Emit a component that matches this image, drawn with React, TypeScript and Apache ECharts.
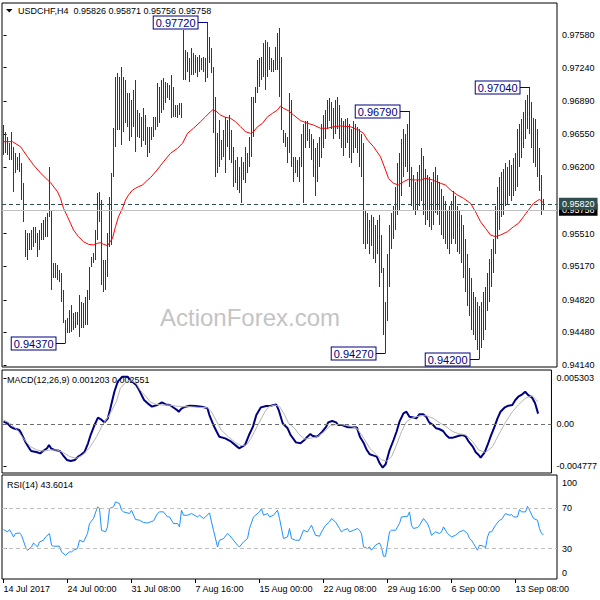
import React, { useEffect, useRef } from 'react';
import * as echarts from 'echarts';

const FONT = "'Liberation Sans', Arial, sans-serif";

const symbolName = 'USDCHF,H4';
const lastOpen = 0.95826;
const lastHigh = 0.95871;
const lastLow = 0.95756;
const lastClose = 0.95758;
const hLine = 0.9582;

const barHigh = [
  0.96642,0.96572,0.96520,0.96451,0.96572,0.96416,0.96347,0.96312,0.96347,0.96242,
  0.96034,0.95547,0.95513,0.95513,0.95547,0.95582,0.95582,0.95513,0.95547,0.95617,
  0.95651,0.95686,0.95721,0.96208,0.95756,0.95200,0.95200,0.95182,0.95130,0.95095,
  0.94922,0.94609,0.94626,0.94713,0.94765,0.94678,0.94696,0.94696,0.94870,0.94800,
  0.94783,0.94852,0.94922,0.95165,0.95269,0.95304,0.95547,0.95929,0.95947,0.95860,
  0.95235,0.95235,0.95513,0.95895,0.96138,0.96607,0.97146,0.97181,0.97146,0.97250,
  0.97146,0.97111,0.96972,0.96972,0.96903,0.97007,0.97111,0.96798,0.96763,0.96729,
  0.96816,0.96746,0.96625,0.96625,0.96625,0.96729,0.96729,0.97076,0.97042,0.97111,
  0.97128,0.97094,0.97076,0.97059,0.97163,0.97042,0.96851,0.96851,0.96868,0.96868,
  0.97632,0.97424,0.97406,0.97337,0.97441,0.97389,0.97372,0.97354,0.97372,0.97337,
  0.97354,0.97337,0.97720,0.97563,0.97441,0.97250,0.96937,0.96555,0.96694,0.96486,
  0.96590,0.96729,0.96694,0.96746,0.96590,0.96416,0.96277,0.96312,0.96208,0.96312,
  0.96260,0.96416,0.96347,0.96520,0.96937,0.96937,0.97042,0.97320,0.97337,0.97354,
  0.97493,0.97528,0.97510,0.97458,0.97337,0.97320,0.97458,0.97597,0.97649,0.97354,
  0.96590,0.96555,0.96520,0.96972,0.96903,0.96312,0.96312,0.96277,0.96312,0.9655,
  0.9665,0.9668,0.9668,0.9660,0.9655,0.9650,0.9640,0.9645,0.9652,0.9665,
  0.9675,0.9680,0.9690,0.9692,0.9688,0.9682,0.9690,0.9693,0.9685,0.9672,
  0.9668,0.9670,0.9672,0.9665,0.9660,0.9668,0.9665,0.9662,0.9660,0.9655,
  0.9645,0.9575,0.9572,0.9565,0.9570,0.9568,0.9560,0.9565,0.9570,0.9550,
  0.9515,0.9480,0.9530,0.9560,0.9572,0.9580,0.9600,0.9625,0.9635,0.9650,
  0.9660,0.9655,0.9665,0.9679,0.9620,0.9612,0.9605,0.9615,0.9622,0.9640,
  0.9632,0.9618,0.9612,0.9610,0.9605,0.9615,0.9620,0.9612,0.9605,0.9598,
  0.9590,0.9585,0.9575,0.9580,0.9585,0.9595,0.9590,0.9580,0.9575,0.9570,
  0.9560,0.9545,0.9530,0.9515,0.9505,0.9490,0.9485,0.9480,0.9475,0.9480,
  0.9490,0.9495,0.9510,0.9525,0.9535,0.9545,0.9580,0.9600,0.9610,0.9615,
  0.9618,0.9625,0.9620,0.9628,0.9622,0.9630,0.9635,0.9660,0.9665,0.9670,
  0.9678,0.9690,0.9695,0.9704,0.9688,0.9672,0.9670,0.9660,0.9640,0.9612,
  0.95871,
];

const barLow = [
  0.96329,0.96347,0.96329,0.96277,0.96277,0.95947,0.96138,0.96173,0.96155,0.95860,
  0.95634,0.95269,0.95235,0.95339,0.95339,0.95374,0.95408,0.95269,0.95339,0.95443,
  0.95443,0.95478,0.95478,0.95686,0.94922,0.95043,0.95043,0.95026,0.95009,0.94800,
  0.94574,0.94370,0.94470,0.94470,0.94487,0.94505,0.94522,0.94557,0.94435,0.94522,
  0.94522,0.94557,0.94557,0.94818,0.95165,0.95200,0.95235,0.95443,0.95634,0.94974,
  0.94904,0.94922,0.95060,0.95374,0.95391,0.96103,0.96416,0.96590,0.96590,0.96433,
  0.96572,0.96659,0.96624,0.96480,0.96520,0.96624,0.96364,0.96520,0.96503,0.96416,
  0.96480,0.96433,0.96312,0.96347,0.96486,0.96520,0.96590,0.96625,0.96659,0.96763,
  0.96798,0.96868,0.96920,0.96903,0.96711,0.96729,0.96729,0.96711,0.96746,0.96711,
  0.97111,0.97111,0.97198,0.97094,0.97163,0.97163,0.97180,0.97146,0.97198,0.97215,
  0.97198,0.97094,0.97128,0.97285,0.97180,0.96555,0.96103,0.96138,0.96208,0.96277,
  0.96312,0.96138,0.96416,0.96277,0.96242,0.95999,0.96034,0.95964,0.95929,0.95825,
  0.96069,0.96034,0.96138,0.96208,0.96312,0.96520,0.96868,0.96972,0.97042,0.97111,
  0.97146,0.97007,0.97146,0.97215,0.97198,0.97198,0.97215,0.97215,0.96937,0.96590,
  0.96451,0.96416,0.96242,0.96347,0.96208,0.96051,0.96138,0.96103,0.96051,0.9620,
  0.9583,0.9640,0.9648,0.9640,0.9628,0.9610,0.9590,0.9605,0.9620,0.9630,
  0.9640,0.9650,0.9660,0.9668,0.9660,0.9650,0.9655,0.9660,0.9650,0.9640,
  0.9632,0.9640,0.9645,0.9630,0.9625,0.9635,0.9640,0.9635,0.9620,0.9610,
  0.9540,0.9535,0.9540,0.9530,0.9538,0.9525,0.9520,0.9530,0.9495,0.9510,
  0.9445,0.9427,0.9460,0.9495,0.9535,0.9545,0.9555,0.9570,0.9575,0.9590,
  0.9610,0.9620,0.9615,0.9600,0.9580,0.9575,0.9570,0.9575,0.9580,0.9585,
  0.9570,0.9560,0.9565,0.9558,0.9555,0.9560,0.9572,0.9570,0.9560,0.9550,
  0.9545,0.9540,0.9535,0.9530,0.9540,0.9545,0.9540,0.9532,0.9530,0.9520,
  0.9505,0.9490,0.9475,0.9465,0.9450,0.9445,0.9440,0.9430,0.9420,0.9432,
  0.9440,0.9450,0.9470,0.9480,0.9495,0.9510,0.9530,0.9545,0.9555,0.9568,
  0.9570,0.9580,0.9582,0.9590,0.9585,0.9590,0.9595,0.9600,0.9620,0.9630,
  0.9640,0.9650,0.9660,0.9655,0.9640,0.9625,0.9620,0.9610,0.9595,0.9570,
  0.95756,
];

// moving average (red), [bar index, price]
const movingAvg = [
  [0,0.96468],[4.5,0.96468],[8.5,0.96416],[12,0.96311],[15,0.96225],[18.5,0.96142],[22,0.96069],[23.5,0.96041],
  [27,0.95947],[28.5,0.95878],[30,0.95774],[32,0.95686],[33.5,0.95617],[35,0.95547],[37.5,0.95478],[40,0.95425],
  [42.5,0.95398],[45,0.95391],[47,0.95409],[48.5,0.95415],[50,0.95398],[52,0.95384],[54.5,0.95461],[56,0.95582],
  [57.5,0.95686],[59.5,0.95774],[61,0.9586],[62.5,0.95912],[64.5,0.95964],[66,0.95982],[67.5,0.95999],[69.5,0.96016],
  [72,0.96069],[73.5,0.96093],[76.8,0.96173],[80,0.96259],[83.5,0.96347],[87,0.96399],[89.5,0.96451],[92,0.96555],
  [95,0.96608],[98.5,0.96676],[101,0.96728],[103.5,0.96781],[104.5,0.96798],[106,0.96791],[108.5,0.96746],[111,0.96722],
  [113.5,0.96712],[116,0.96676],[118.5,0.96624],[121,0.96572],[123.5,0.96555],[125,0.96572],[127,0.96624],[129.5,0.9666],
  [132,0.96728],[134.5,0.96764],[137,0.96798],[138.5,0.9684],[140,0.96816],[142.5,0.96791],[145,0.96746],[148.5,0.96688],
  [152,0.9666],[155,0.96642],[158.5,0.96608],[162,0.96608],[165,0.96624],[168.5,0.96632],[173.5,0.96624],[177.5,0.9659],
  [180,0.96555],[182,0.96486],[185,0.96416],[188.5,0.96311],[191,0.96173],[192.5,0.96086],[195,0.96034],[197.5,0.96017],
  [200,0.96051],[202.5,0.96076],[205,0.96069],[208.5,0.96069],[211,0.96086],[214.5,0.96069],[218.5,0.96034],[221,0.96017],
  [223.5,0.95964],[227,0.95912],[230,0.95878],[233.5,0.95826],[236,0.95738],[238.5,0.95634],[241,0.95565],[243.5,0.95495],
  [246,0.95478],[248.5,0.95495],[252,0.9553],[255,0.95582],[257.5,0.95617],[260,0.95686],[262.5,0.95756],[265,0.95826],
  [268,0.95867],[270,0.9583],
];

const macdMain = [
  [0,0.00028],[2,0.00009],[3.5,-0.00029],[5,-0.00048],[8,-0.00068],[9,-0.00106],[11,-0.00201],[13,-0.00277],
  [14,-0.00308],[17,-0.00323],[18.5,-0.00335],[20,-0.00308],[22,-0.00277],[23,-0.00239],[24,-0.00277],[26,-0.00297],
  [28.5,-0.00308],[30,-0.00354],[32,-0.00411],[34,-0.00423],[36,-0.00411],[37.7,-0.00373],[39,-0.00354],[41,-0.00316],
  [42.7,-0.0022],[44,-0.00125],[46,-0.0001],[47.7,0.00074],[49,0.00058],[51,0.0002],[52.7,0.00066],[54,0.00181],
  [56,0.00371],[57.7,0.00486],[60,0.00543],[62.7,0.00543],[64,0.00505],[67,0.00448],[68.5,0.0039],[71,0.00276],
  [73.5,0.00226],[75,0.002],[77.7,0.00219],[80,0.00249],[82,0.00226],[84,0.00219],[86,0.00188],[87.7,0.00161],
  [88.5,0.00142],[90,0.00181],[92,0.002],[94,0.00211],[97,0.00207],[100,0.002],[103,0.00181],[104,0.00104],
  [106,-0.0001],[107.7,-0.00087],[109,-0.00144],[112,-0.00163],[115,-0.00201],[118,-0.00258],[119,-0.00277],[122,-0.00239],
  [124,-0.00125],[126,-0.00029],[127.7,0.00104],[130,0.00192],[132.7,0.00207],[135,0.00211],[137.7,0.00226],[139,0.00161],
  [141,0.00009],[143.5,-0.00048],[145,-0.00125],[147.7,-0.00209],[150,-0.0022],[152,-0.00182],[153.5,-0.00144],[155,-0.00114],
  [156,-0.00133],[158,-0.00144],[159,-0.00133],[161,-0.00087],[163,-0.00029],[164,0.0002],[166,0.00036],[168,0.0002],
  [169,-0.0001],[171,-0.0001],[173,-0.00029],[174,-0.00037],[177,-0.00037],[178.5,-0.0004],[180,-0.00144],[182,-0.0022],
  [183.5,-0.00297],[185,-0.00346],[187,-0.00361],[188.5,-0.00373],[190,-0.00449],[191.5,-0.00499],[193,-0.0046],[195,-0.00297],
  [197,-0.00182],[198.5,-0.00087],[200,0.00028],[202,0.00123],[203.5,0.00142],[205,0.00085],[207,0.00077],[208.5,0.00066],
  [210,0.00112],[212,0.00112],[213.5,0.00085],[215,0.0002],[217,-0.0001],[218.5,-0.00048],[220,-0.00056],[222,-0.00079],
  [223.5,-0.00125],[225,-0.00155],[227,-0.00155],[228.5,-0.00144],[230,-0.00133],[232,-0.00125],[233.5,-0.00144],[235,-0.00201],
  [237,-0.00258],[238.5,-0.00323],[240,-0.00354],[241,-0.00384],[243,-0.00323],[244.5,-0.00239],[246,-0.00144],[248,-0.00029],
  [249.5,0.00066],[251,0.00142],[253,0.00188],[255,0.00211],[257,0.00219],[258.5,0.00276],[260,0.00314],[262,0.00341],
  [263.5,0.00371],[265,0.00333],[267,0.00303],[268.5,0.0024],[270,0.0012],
];

const macdSignal = [
  [0,0.00047],[3.5,0.00009],[7,-0.00068],[10,-0.00163],[13.5,-0.00258],[17,-0.00297],[20,-0.00308],[23.5,-0.00297],
  [27,-0.00297],[30,-0.00323],[33.5,-0.00373],[37,-0.00392],[40,-0.00354],[43.5,-0.0027],[47,-0.00144],[50,-0.0001],
  [53.5,0.00104],[57,0.00257],[59,0.0041],[62,0.00486],[64,0.00505],[67,0.00467],[69,0.0039],[72,0.00314],
  [74,0.00257],[77,0.00226],[80,0.00219],[83.5,0.00219],[87,0.00207],[90,0.002],[94,0.002],[98.5,0.00192],
  [103,0.00188],[105,0.00142],[107.7,0.00028],[110,-0.00068],[113.5,-0.00144],[117,-0.00209],[120,-0.00247],[122.7,-0.00239],
  [125,-0.00163],[128.5,-0.0001],[132,0.00142],[134,0.002],[137,0.00219],[139.5,0.002],[142,0.00104],[144,0.00009],
  [147,-0.00048],[149,-0.0011],[152,-0.0017],[155,-0.00163],[158.5,-0.00144],[162,-0.00087],[165,-0.00018],[168.5,-0.00003],
  [172,-0.0001],[175,-0.00022],[178.5,-0.00048],[182,-0.00163],[185,-0.00277],[188.5,-0.00354],[191,-0.00411],[193.5,-0.00423],
  [196,-0.00373],[198.5,-0.00239],[201,-0.00087],[203.5,0.00028],[206,0.00066],[208.5,0.00085],[211,0.00096],[213.5,0.00096],
  [217,0.00066],[220,0.0002],[223.5,-0.00029],[227,-0.00087],[230,-0.0011],[233.5,-0.00125],[237,-0.00201],[240,-0.00297],
  [243.5,-0.00323],[247,-0.00258],[250,-0.00125],[253.5,0.0002],[257,0.00142],[260,0.00219],[263.5,0.00295],[267,0.00326],
  [270,0.00255],
];

const rsiLine = [
  [0,48.7],[2,46.4],[3,48.7],[4,45.4],[5,41.4],[6,44.8],[8,45.4],[9,43.1],[11,31.6],[12,28.3],[14,31.6],[15,35.5],
  [17,31.6],[18,36.5],[20,38.2],[21,41.4],[23,44.8],[24,33.3],[25,32.3],[28,32.3],[29,26.7],[31,23.4],[33,26.7],[34,26.7],
  [35,28.3],[37,30],[38,38.2],[40,36.5],[42,44.8],[43,54.6],[45,59.6],[47,71],[48,69.4],[49,48],[51,46.4],[52,51.3],
  [53,69.4],[55,71],[56,75.9],[58,74.3],[59,67.7],[60,66.1],[63,64.5],[64,67.7],[66,58.6],[68,57.9],[70,55.6],[72,55.2],
  [75,57.2],[77,64.5],[78,66.1],[80,66.1],[82,61.1],[83,61.1],[85,54.6],[87,54.6],[88,51.3],[89,67.7],[90,62.8],[92,62.8],
  [94,64.5],[97,61.1],[98,62.8],[100,59.6],[101,61.1],[103,65.1],[104,56.2],[105,48],[107,31.6],[108,38.2],[110,39.8],[112,44.8],
  [113,43.1],[115,38.2],[117,33.3],[118,31.6],[120,36.5],[122,39.8],[123,49.7],[125,61.1],[128,66.1],[129,69.4],[130,62.8],[132,64.5],
  [133,61.1],[135,62.8],[137,67.7],[138,59.6],[140,39.8],[142,41.4],[143,49.7],[144,39.8],[146,38.2],[148,38.2],
  [150,48],[152,46.4],[153,49.7],[154,52.9],[156,43.1],[158,42.1],[159,46.4],[161,52.9],[163,56.2],[164,59.6],[166,56.2],[168,49.7],
  [169,46.4],[170,48],[172,49.7],[173,46.4],[175,48],[177,49.7],[178,48],[179,44.8],[180,31.6],[182,30],[183,31.6],[184,28.3],
  [186,33.3],[188,35.5],[189,31],[190,22.4],[191,22.4],[193,46.4],[194,48],[196,48],[198,54.6],[199,61.1],[202,61.8],[203,66.1],
  [204,52.9],[205,49.7],[207,50.7],[208,52.9],[210,59.6],[212,54.6],[213,49.7],[214,43.1],[216,46.4],[218,44.8],[219,46.4],[220,51.3],
  [222,44.8],[224,41.4],[226,43.1],[228,46.4],[230,48],[232,44.8],[233,39.8],[234,38.2],[235,34.9],[237,28.3],[238,33.3],[240,32.3],
  [241,30.6],[242,41.4],[243,46.4],[244,46.4],[246,52.9],[248,57.9],[249,58.6],[251,64.5],[253,62.8],[254,63.5],[255,61.1],[257,61.1],
  [258,68.4],[259,66.1],[261,66.1],[262,71.7],[263,67.7],[265,59.6],[267,57.9],[268,49.7],[269,44.8],[270,43.6],
];

const macdLast = 0.001203;
const signalLast = 0.002551;
const rsiLast = 43.6014;

const dateTickIndex = [0, 32, 64, 96, 128, 160, 192, 224, 256];
const dateTickLabels = ['14 Jul 2017', '24 Jul 00:00', '31 Jul 08:00', '7 Aug 16:00', '15 Aug 00:00', '22 Aug 08:00', '29 Aug 16:00', '6 Sep 00:00', '13 Sep 08:00'];
const priceTicks = [0.9414, 0.9448, 0.9482, 0.9517, 0.9551, 0.962, 0.9655, 0.9689, 0.9724, 0.9758];
const macdTicks = [-0.004777, 0, 0.005303];
const rsiLevels = [30, 70];
const rsiLabelAt = [6.4, 30, 70, 94.6];
const rsiLabelText = ['0', '30', '70', '100'];

const annIndex = [31, 102, 191, 203, 238, 263];
const annPrice = [0.9437, 0.9772, 0.9427, 0.9679, 0.942, 0.9704];

const BAR_COLOR = '#17405e';

export default function App() {
  const ref = useRef<HTMLDivElement>(null);
  useEffect(() => {
    document.body.style.margin = '0';
    if (!ref.current) return;
    const chart = echarts.init(ref.current, undefined, { renderer: 'svg' });
    const xCommon = (g: number) => ({
      type: 'value', gridIndex: g, min: -0.75, max: 276.75,
      splitLine: { show: false },
      axisLine: { show: false },
      axisTick: { show: g === 2, customValues: dateTickIndex, length: 4, lineStyle: { color: '#000' } },
      axisLabel: {
        show: g === 2, customValues: dateTickIndex,
        formatter: (v: number) => dateTickLabels[dateTickIndex.indexOf(v)] ?? '',
        align: 'left', margin: 5, color: '#000', fontSize: 9, fontFamily: FONT,
      },
    });
    const labelStyle = { color: '#000', fontSize: 9, fontFamily: FONT, margin: 5 };
    const option: any = {
      animation: false,
      backgroundColor: '#fff',
      textStyle: { fontFamily: FONT },
      grid: [
        { left: 2, top: 3, width: 555, height: 364, show: true, borderColor: '#000', borderWidth: 1 },
        { left: 2, top: 370, width: 555, height: 103, show: true, borderColor: '#000', borderWidth: 1 },
        { left: 2, top: 475, width: 555, height: 104, show: true, borderColor: '#000', borderWidth: 1 },
      ],
      xAxis: [xCommon(0), xCommon(1), xCommon(2)],
      yAxis: [
        {
          type: 'value', gridIndex: 0, position: 'right', min: 0.94119, max: 0.97914,
          splitLine: { show: false }, axisLine: { show: false },
          axisTick: { show: true, customValues: priceTicks, length: 3, lineStyle: { color: '#000' } },
          axisLabel: { ...labelStyle, customValues: priceTicks, formatter: (v: number) => v.toFixed(5) },
        },
        {
          type: 'value', gridIndex: 1, position: 'right', min: -0.0056, max: 0.0062,
          splitLine: { show: false }, axisLine: { show: false },
          axisTick: { show: true, customValues: macdTicks, length: 3, lineStyle: { color: '#000' } },
          axisLabel: { ...labelStyle, customValues: macdTicks, formatter: (v: number) => (v === 0 ? '0.00' : v.toFixed(6)) },
        },
        {
          type: 'value', gridIndex: 2, position: 'right', min: 0, max: 102.4,
          splitLine: { show: false }, axisLine: { show: false },
          axisTick: { show: true, customValues: rsiLevels, length: 3, lineStyle: { color: '#000' } },
          axisLabel: { ...labelStyle, customValues: rsiLabelAt, formatter: (v: number) => rsiLabelText[rsiLabelAt.indexOf(v)] ?? '' },
        },
      ],
      graphic: [
        { type: 'text', x: 160, y: 317, z: 0, silent: true, style: { text: 'ActionForex.com', fill: '#c4c4c4', fontSize: 24, fontFamily: FONT, verticalAlign: 'middle' } },
        { type: 'polygon', shape: { points: [[6, 9], [12.5, 9], [9.25, 12.5]] }, style: { fill: '#000' } },
        { type: 'text', x: 18, y: 11, style: { text: `${symbolName}  ${lastOpen.toFixed(5)} ${lastHigh.toFixed(5)} ${lastLow.toFixed(5)} ${lastClose.toFixed(5)}`, fill: '#000', fontSize: 9, fontFamily: FONT, verticalAlign: 'middle' } },
        { type: 'text', x: 7, y: 380, style: { text: `MACD(12,26,9) ${macdLast.toFixed(6)} ${signalLast.toFixed(6)}`, fill: '#000', fontSize: 9, fontFamily: FONT, verticalAlign: 'middle' } },
        { type: 'text', x: 7, y: 485, style: { text: `RSI(14) ${rsiLast.toFixed(4)}`, fill: '#000', fontSize: 9, fontFamily: FONT, verticalAlign: 'middle' } },
      ],
      series: [
        {
          type: 'custom', name: 'bars', xAxisIndex: 0, yAxisIndex: 0, z: 2,
          data: barHigh.map((h, i) => [i, barLow[i], h]),
          encode: { x: 0, y: [1, 2] },
          renderItem: (params: any, api: any) => {
            const lo = api.coord([api.value(0), api.value(1)]);
            const hi = api.coord([api.value(0), api.value(2)]);
            const x = Math.floor(lo[0]) + 0.5;
            return { type: 'line', shape: { x1: x, y1: Math.round(lo[1]), x2: x, y2: Math.round(hi[1]) }, style: { stroke: BAR_COLOR, lineWidth: 1 } };
          },
        },
        {
          type: 'line', name: 'MA', xAxisIndex: 0, yAxisIndex: 0, z: 3,
          data: movingAvg, showSymbol: false, lineStyle: { color: '#ff0000', width: 1 },
          markLine: {
            silent: true, symbol: ['none', 'none'], animation: false, precision: 6,
            data: [
              { yAxis: lastClose, lineStyle: { color: '#c0c0c0', type: 'solid', width: 1 },
                label: { show: true, position: 'end', distance: 2, formatter: lastClose.toFixed(5), color: '#fff', backgroundColor: '#000', padding: [2, 3, 1, 3], fontSize: 9, fontFamily: FONT } },
              { yAxis: hLine, lineStyle: { color: '#2f4f4f', type: [4, 3], width: 1 },
                label: { show: true, position: 'end', distance: 2, formatter: hLine.toFixed(5), color: '#fff', backgroundColor: '#2f4f4f', padding: [2, 3, 1, 3], fontSize: 9, fontFamily: FONT } },
            ],
          },
        },
        {
          type: 'custom', name: 'annotations', xAxisIndex: 0, yAxisIndex: 0, z: 6,
          data: annIndex.map((i, k) => [i, annPrice[k]]),
          renderItem: (params: any, api: any) => {
            const p = api.coord([api.value(0), api.value(1)]);
            const px = Math.floor(p[0]) + 0.5;
            const py = Math.round(p[1]) + 0.5;
            return {
              type: 'group',
              children: [
                { type: 'line', shape: { x1: px - 10, y1: py, x2: px, y2: py }, style: { stroke: '#000080', lineWidth: 1 } },
                { type: 'text', x: px - 10, y: py, style: { text: annPrice[params.dataIndex].toFixed(5), fill: '#000080', fontSize: 11, fontFamily: FONT, align: 'right', verticalAlign: 'middle', backgroundColor: '#fff', borderColor: '#000080', borderWidth: 1, padding: [1, 2, 0, 2] } },
              ],
            };
          },
        },
        {
          type: 'line', name: 'MACD', xAxisIndex: 1, yAxisIndex: 1, z: 3,
          data: macdMain, showSymbol: false, lineStyle: { color: '#000080', width: 2 },
          markLine: {
            silent: true, symbol: ['none', 'none'], label: { show: false }, precision: 6,
            data: [{ yAxis: 0, lineStyle: { color: '#6e6e6e', type: [4, 3], width: 1 } }],
          },
        },
        {
          type: 'line', name: 'Signal', xAxisIndex: 1, yAxisIndex: 1, z: 4,
          data: macdSignal, showSymbol: false, lineStyle: { color: '#b4b4b4', width: 1 },
        },
        {
          type: 'line', name: 'RSI', xAxisIndex: 2, yAxisIndex: 2, z: 3,
          data: rsiLine, showSymbol: false, lineStyle: { color: '#1e90ff', width: 1 },
          markLine: {
            silent: true, symbol: ['none', 'none'], label: { show: false }, precision: 4,
            data: rsiLevels.map((v) => ({ yAxis: v, lineStyle: { color: '#c0c0c0', type: [4, 3], width: 1 } })),
          },
        },
      ],
    };
    chart.setOption(option);
    return () => chart.dispose();
  }, []);
  return <div ref={ref} style={{ width: 600, height: 600 }} />;
}
